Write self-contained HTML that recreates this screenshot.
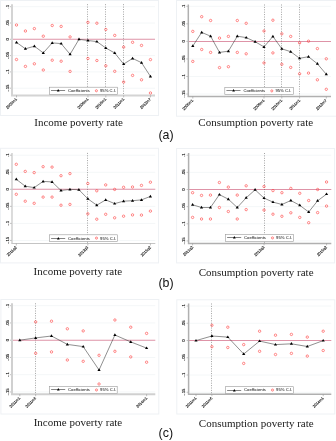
<!DOCTYPE html>
<html><head><meta charset="utf-8"><style>
html,body{margin:0;padding:0;background:#fff;}
svg{display:block;will-change:transform;}
</style></head><body>
<svg width="336" height="441" viewBox="0 0 336 441">
<rect width="336" height="441" fill="#fff"/>
<rect x="0.5" y="0.5" width="158" height="115" fill="none" stroke="#eef1f4" stroke-width="1"/>
<line x1="13" y1="6.7" x2="155" y2="6.7" stroke="#f4f7f8" stroke-width="1"/>
<line x1="10" y1="6.7" x2="12" y2="6.7" stroke="#999" stroke-width="0.6"/>
<text x="9" y="6.7" transform="rotate(-90 9 6.7)" text-anchor="middle" font-size="4.2" fill="#222" stroke="#222" stroke-width="0.12" font-family="'Liberation Sans', sans-serif">.1</text>
<line x1="13" y1="23" x2="155" y2="23" stroke="#f4f7f8" stroke-width="1"/>
<line x1="10" y1="23" x2="12" y2="23" stroke="#999" stroke-width="0.6"/>
<text x="9" y="23" transform="rotate(-90 9 23)" text-anchor="middle" font-size="4.2" fill="#222" stroke="#222" stroke-width="0.12" font-family="'Liberation Sans', sans-serif">.05</text>
<line x1="10" y1="39.3" x2="12" y2="39.3" stroke="#999" stroke-width="0.6"/>
<text x="9" y="39.3" transform="rotate(-90 9 39.3)" text-anchor="middle" font-size="4.2" fill="#222" stroke="#222" stroke-width="0.12" font-family="'Liberation Sans', sans-serif">0</text>
<line x1="13" y1="55.6" x2="155" y2="55.6" stroke="#f4f7f8" stroke-width="1"/>
<line x1="10" y1="55.6" x2="12" y2="55.6" stroke="#999" stroke-width="0.6"/>
<text x="9" y="55.6" transform="rotate(-90 9 55.6)" text-anchor="middle" font-size="4.2" fill="#222" stroke="#222" stroke-width="0.12" font-family="'Liberation Sans', sans-serif">-.05</text>
<line x1="13" y1="71.9" x2="155" y2="71.9" stroke="#f4f7f8" stroke-width="1"/>
<line x1="10" y1="71.9" x2="12" y2="71.9" stroke="#999" stroke-width="0.6"/>
<text x="9" y="71.9" transform="rotate(-90 9 71.9)" text-anchor="middle" font-size="4.2" fill="#222" stroke="#222" stroke-width="0.12" font-family="'Liberation Sans', sans-serif">-.1</text>
<line x1="13" y1="88.2" x2="155" y2="88.2" stroke="#f4f7f8" stroke-width="1"/>
<line x1="10" y1="88.2" x2="12" y2="88.2" stroke="#999" stroke-width="0.6"/>
<text x="9" y="88.2" transform="rotate(-90 9 88.2)" text-anchor="middle" font-size="4.2" fill="#222" stroke="#222" stroke-width="0.12" font-family="'Liberation Sans', sans-serif">-.15</text>
<line x1="12" y1="39.3" x2="155" y2="39.3" stroke="#de93a7" stroke-width="1.05"/>
<line x1="87.5" y1="4.2" x2="87.5" y2="95.4" stroke="#666" stroke-width="0.6" stroke-dasharray="1 1.4"/>
<line x1="105.5" y1="4.2" x2="105.5" y2="95.4" stroke="#666" stroke-width="0.6" stroke-dasharray="1 1.4"/>
<line x1="123.5" y1="4.2" x2="123.5" y2="95.4" stroke="#666" stroke-width="0.6" stroke-dasharray="1 1.4"/>
<line x1="12" y1="4.2" x2="12" y2="95.4" stroke="#d4d4d4" stroke-width="2.0"/>
<line x1="11" y1="95.4" x2="155" y2="95.4" stroke="#d4d4d4" stroke-width="2.0"/>
<line x1="16.5" y1="95.4" x2="16.5" y2="97.4" stroke="#999" stroke-width="0.6"/>
<text x="15.6" y="97.9" transform="rotate(-45 15.6 97.9)" text-anchor="end" dominant-baseline="hanging" font-size="3.8" fill="#111" stroke="#111" stroke-width="0.12" font-family="'Liberation Sans', sans-serif">2005m1</text>
<line x1="87.94" y1="95.4" x2="87.94" y2="97.4" stroke="#999" stroke-width="0.6"/>
<text x="87.04" y="97.9" transform="rotate(-45 87.04 97.9)" text-anchor="end" dominant-baseline="hanging" font-size="3.8" fill="#111" stroke="#111" stroke-width="0.12" font-family="'Liberation Sans', sans-serif">2009m1</text>
<line x1="105.8" y1="95.4" x2="105.8" y2="97.4" stroke="#999" stroke-width="0.6"/>
<text x="104.9" y="97.9" transform="rotate(-45 104.9 97.9)" text-anchor="end" dominant-baseline="hanging" font-size="3.8" fill="#111" stroke="#111" stroke-width="0.12" font-family="'Liberation Sans', sans-serif">2010m1</text>
<line x1="123.66" y1="95.4" x2="123.66" y2="97.4" stroke="#999" stroke-width="0.6"/>
<text x="122.76" y="97.9" transform="rotate(-45 122.76 97.9)" text-anchor="end" dominant-baseline="hanging" font-size="3.8" fill="#111" stroke="#111" stroke-width="0.12" font-family="'Liberation Sans', sans-serif">2011m1</text>
<line x1="150.45" y1="95.4" x2="150.45" y2="97.4" stroke="#999" stroke-width="0.6"/>
<text x="149.55" y="97.9" transform="rotate(-45 149.55 97.9)" text-anchor="end" dominant-baseline="hanging" font-size="3.8" fill="#111" stroke="#111" stroke-width="0.12" font-family="'Liberation Sans', sans-serif">2012m7</text>
<circle cx="16.5" cy="25" r="1.2" fill="none" stroke="#ff3a3a" stroke-width="0.6"/>
<circle cx="16.5" cy="59.5" r="1.2" fill="none" stroke="#ff3a3a" stroke-width="0.6"/>
<circle cx="25.43" cy="31" r="1.2" fill="none" stroke="#ff3a3a" stroke-width="0.6"/>
<circle cx="25.43" cy="66.4" r="1.2" fill="none" stroke="#ff3a3a" stroke-width="0.6"/>
<circle cx="34.36" cy="28.6" r="1.2" fill="none" stroke="#ff3a3a" stroke-width="0.6"/>
<circle cx="34.36" cy="63.8" r="1.2" fill="none" stroke="#ff3a3a" stroke-width="0.6"/>
<circle cx="43.29" cy="36.2" r="1.2" fill="none" stroke="#ff3a3a" stroke-width="0.6"/>
<circle cx="43.29" cy="70" r="1.2" fill="none" stroke="#ff3a3a" stroke-width="0.6"/>
<circle cx="52.22" cy="25.5" r="1.2" fill="none" stroke="#ff3a3a" stroke-width="0.6"/>
<circle cx="52.22" cy="60.2" r="1.2" fill="none" stroke="#ff3a3a" stroke-width="0.6"/>
<circle cx="61.15" cy="26.4" r="1.2" fill="none" stroke="#ff3a3a" stroke-width="0.6"/>
<circle cx="61.15" cy="61.2" r="1.2" fill="none" stroke="#ff3a3a" stroke-width="0.6"/>
<circle cx="70.08" cy="36.9" r="1.2" fill="none" stroke="#ff3a3a" stroke-width="0.6"/>
<circle cx="70.08" cy="71.4" r="1.2" fill="none" stroke="#ff3a3a" stroke-width="0.6"/>
<circle cx="87.94" cy="22.3" r="1.2" fill="none" stroke="#ff3a3a" stroke-width="0.6"/>
<circle cx="87.94" cy="58.5" r="1.2" fill="none" stroke="#ff3a3a" stroke-width="0.6"/>
<circle cx="96.87" cy="23.2" r="1.2" fill="none" stroke="#ff3a3a" stroke-width="0.6"/>
<circle cx="96.87" cy="60.5" r="1.2" fill="none" stroke="#ff3a3a" stroke-width="0.6"/>
<circle cx="105.8" cy="29.5" r="1.2" fill="none" stroke="#ff3a3a" stroke-width="0.6"/>
<circle cx="105.8" cy="65.8" r="1.2" fill="none" stroke="#ff3a3a" stroke-width="0.6"/>
<circle cx="114.73" cy="35.4" r="1.2" fill="none" stroke="#ff3a3a" stroke-width="0.6"/>
<circle cx="114.73" cy="71.3" r="1.2" fill="none" stroke="#ff3a3a" stroke-width="0.6"/>
<circle cx="123.66" cy="47.1" r="1.2" fill="none" stroke="#ff3a3a" stroke-width="0.6"/>
<circle cx="123.66" cy="82" r="1.2" fill="none" stroke="#ff3a3a" stroke-width="0.6"/>
<circle cx="132.59" cy="42.3" r="1.2" fill="none" stroke="#ff3a3a" stroke-width="0.6"/>
<circle cx="132.59" cy="75.4" r="1.2" fill="none" stroke="#ff3a3a" stroke-width="0.6"/>
<circle cx="141.52" cy="45.4" r="1.2" fill="none" stroke="#ff3a3a" stroke-width="0.6"/>
<circle cx="141.52" cy="79.8" r="1.2" fill="none" stroke="#ff3a3a" stroke-width="0.6"/>
<circle cx="150.45" cy="59.6" r="1.2" fill="none" stroke="#ff3a3a" stroke-width="0.6"/>
<circle cx="150.45" cy="93" r="1.2" fill="none" stroke="#ff3a3a" stroke-width="0.6"/>
<polyline points="16.5,42.4 25.43,48.8 34.36,46.2 43.29,52.9 52.22,42.9 61.15,43.6 70.08,54.3 79.01,39.3 87.94,40.5 96.87,41.6 105.8,48 114.73,53 123.66,64.1 132.59,58.4 141.52,62.7 150.45,76.4" fill="none" stroke="#333" stroke-width="0.55"/>
<path d="M16.5,40.7 L18.1,43.4 L14.9,43.4 Z" fill="#000"/>
<path d="M25.43,47.1 L27.03,49.8 L23.83,49.8 Z" fill="#000"/>
<path d="M34.36,44.5 L35.96,47.2 L32.76,47.2 Z" fill="#000"/>
<path d="M43.29,51.2 L44.89,53.9 L41.69,53.9 Z" fill="#000"/>
<path d="M52.22,41.2 L53.82,43.9 L50.62,43.9 Z" fill="#000"/>
<path d="M61.15,41.9 L62.75,44.6 L59.55,44.6 Z" fill="#000"/>
<path d="M70.08,52.6 L71.68,55.3 L68.48,55.3 Z" fill="#000"/>
<path d="M79.01,37.6 L80.61,40.3 L77.41,40.3 Z" fill="#000"/>
<path d="M87.94,38.8 L89.54,41.5 L86.34,41.5 Z" fill="#000"/>
<path d="M96.87,39.9 L98.47,42.6 L95.27,42.6 Z" fill="#000"/>
<path d="M105.8,46.3 L107.4,49 L104.2,49 Z" fill="#000"/>
<path d="M114.73,51.3 L116.33,54 L113.13,54 Z" fill="#000"/>
<path d="M123.66,62.4 L125.26,65.1 L122.06,65.1 Z" fill="#000"/>
<path d="M132.59,56.7 L134.19,59.4 L130.99,59.4 Z" fill="#000"/>
<path d="M141.52,61 L143.12,63.7 L139.92,63.7 Z" fill="#000"/>
<path d="M150.45,74.7 L152.05,77.4 L148.85,77.4 Z" fill="#000"/>
<rect x="49.4" y="87.2" width="67.9" height="7.1" fill="#fff" stroke="#999" stroke-width="0.6"/>
<line x1="51" y1="90.5" x2="65.1" y2="90.5" stroke="#333" stroke-width="0.6"/>
<path d="M58.2,89 L59.6,91.4 L56.8,91.4 Z" fill="#000"/>
<text x="68" y="92.15" font-size="4.2" fill="#000" font-family="'Liberation Sans', sans-serif">Coefficients</text>
<circle cx="96.4" cy="90.75" r="1.05" fill="none" stroke="#ff4d4d" stroke-width="0.7"/>
<text x="100" y="92.15" font-size="4.2" fill="#000" font-family="'Liberation Sans', sans-serif">95% C.I.</text>
<rect x="176.5" y="0.5" width="160" height="115.7" fill="none" stroke="#eef1f4" stroke-width="1"/>
<line x1="189.3" y1="6.3" x2="331" y2="6.3" stroke="#f4f7f8" stroke-width="1"/>
<line x1="186.3" y1="6.3" x2="188.3" y2="6.3" stroke="#999" stroke-width="0.6"/>
<text x="185.2" y="6.3" transform="rotate(-90 185.2 6.3)" text-anchor="middle" font-size="4.2" fill="#222" stroke="#222" stroke-width="0.12" font-family="'Liberation Sans', sans-serif">.1</text>
<line x1="189.3" y1="23.85" x2="331" y2="23.85" stroke="#f4f7f8" stroke-width="1"/>
<line x1="186.3" y1="23.85" x2="188.3" y2="23.85" stroke="#999" stroke-width="0.6"/>
<text x="185.2" y="23.85" transform="rotate(-90 185.2 23.85)" text-anchor="middle" font-size="4.2" fill="#222" stroke="#222" stroke-width="0.12" font-family="'Liberation Sans', sans-serif">.05</text>
<line x1="186.3" y1="41.4" x2="188.3" y2="41.4" stroke="#999" stroke-width="0.6"/>
<text x="185.2" y="41.4" transform="rotate(-90 185.2 41.4)" text-anchor="middle" font-size="4.2" fill="#222" stroke="#222" stroke-width="0.12" font-family="'Liberation Sans', sans-serif">0</text>
<line x1="189.3" y1="58.95" x2="331" y2="58.95" stroke="#f4f7f8" stroke-width="1"/>
<line x1="186.3" y1="58.95" x2="188.3" y2="58.95" stroke="#999" stroke-width="0.6"/>
<text x="185.2" y="58.95" transform="rotate(-90 185.2 58.95)" text-anchor="middle" font-size="4.2" fill="#222" stroke="#222" stroke-width="0.12" font-family="'Liberation Sans', sans-serif">-.05</text>
<line x1="189.3" y1="76.5" x2="331" y2="76.5" stroke="#f4f7f8" stroke-width="1"/>
<line x1="186.3" y1="76.5" x2="188.3" y2="76.5" stroke="#999" stroke-width="0.6"/>
<text x="185.2" y="76.5" transform="rotate(-90 185.2 76.5)" text-anchor="middle" font-size="4.2" fill="#222" stroke="#222" stroke-width="0.12" font-family="'Liberation Sans', sans-serif">-.1</text>
<line x1="189.3" y1="94.05" x2="331" y2="94.05" stroke="#f4f7f8" stroke-width="1"/>
<line x1="186.3" y1="94.05" x2="188.3" y2="94.05" stroke="#999" stroke-width="0.6"/>
<text x="185.2" y="94.05" transform="rotate(-90 185.2 94.05)" text-anchor="middle" font-size="4.2" fill="#222" stroke="#222" stroke-width="0.12" font-family="'Liberation Sans', sans-serif">-.15</text>
<line x1="188.3" y1="41.4" x2="331" y2="41.4" stroke="#de93a7" stroke-width="1.05"/>
<line x1="264.5" y1="4.5" x2="264.5" y2="96.5" stroke="#666" stroke-width="0.6" stroke-dasharray="1 1.4"/>
<line x1="281.5" y1="4.5" x2="281.5" y2="96.5" stroke="#666" stroke-width="0.6" stroke-dasharray="1 1.4"/>
<line x1="299.5" y1="4.5" x2="299.5" y2="96.5" stroke="#666" stroke-width="0.6" stroke-dasharray="1 1.4"/>
<line x1="188.3" y1="4.5" x2="188.3" y2="96.5" stroke="#b0b0b0" stroke-width="1.5"/>
<line x1="187.55" y1="96.5" x2="331" y2="96.5" stroke="#b0b0b0" stroke-width="1.5"/>
<line x1="192.8" y1="96.5" x2="192.8" y2="98.5" stroke="#999" stroke-width="0.6"/>
<text x="191.9" y="99" transform="rotate(-45 191.9 99)" text-anchor="end" dominant-baseline="hanging" font-size="3.8" fill="#111" stroke="#111" stroke-width="0.12" font-family="'Liberation Sans', sans-serif">2005m1</text>
<line x1="264" y1="96.5" x2="264" y2="98.5" stroke="#999" stroke-width="0.6"/>
<text x="263.1" y="99" transform="rotate(-45 263.1 99)" text-anchor="end" dominant-baseline="hanging" font-size="3.8" fill="#111" stroke="#111" stroke-width="0.12" font-family="'Liberation Sans', sans-serif">2009m1</text>
<line x1="281.8" y1="96.5" x2="281.8" y2="98.5" stroke="#999" stroke-width="0.6"/>
<text x="280.9" y="99" transform="rotate(-45 280.9 99)" text-anchor="end" dominant-baseline="hanging" font-size="3.8" fill="#111" stroke="#111" stroke-width="0.12" font-family="'Liberation Sans', sans-serif">2010m1</text>
<line x1="299.6" y1="96.5" x2="299.6" y2="98.5" stroke="#999" stroke-width="0.6"/>
<text x="298.7" y="99" transform="rotate(-45 298.7 99)" text-anchor="end" dominant-baseline="hanging" font-size="3.8" fill="#111" stroke="#111" stroke-width="0.12" font-family="'Liberation Sans', sans-serif">2011m1</text>
<line x1="326.3" y1="96.5" x2="326.3" y2="98.5" stroke="#999" stroke-width="0.6"/>
<text x="325.4" y="99" transform="rotate(-45 325.4 99)" text-anchor="end" dominant-baseline="hanging" font-size="3.8" fill="#111" stroke="#111" stroke-width="0.12" font-family="'Liberation Sans', sans-serif">2012m7</text>
<circle cx="192.8" cy="31.4" r="1.2" fill="none" stroke="#ff3a3a" stroke-width="0.6"/>
<circle cx="192.8" cy="61.4" r="1.2" fill="none" stroke="#ff3a3a" stroke-width="0.6"/>
<circle cx="201.7" cy="16.7" r="1.2" fill="none" stroke="#ff3a3a" stroke-width="0.6"/>
<circle cx="201.7" cy="49.5" r="1.2" fill="none" stroke="#ff3a3a" stroke-width="0.6"/>
<circle cx="210.6" cy="20.5" r="1.2" fill="none" stroke="#ff3a3a" stroke-width="0.6"/>
<circle cx="210.6" cy="52.4" r="1.2" fill="none" stroke="#ff3a3a" stroke-width="0.6"/>
<circle cx="219.5" cy="38.1" r="1.2" fill="none" stroke="#ff3a3a" stroke-width="0.6"/>
<circle cx="219.5" cy="67.6" r="1.2" fill="none" stroke="#ff3a3a" stroke-width="0.6"/>
<circle cx="228.4" cy="36.4" r="1.2" fill="none" stroke="#ff3a3a" stroke-width="0.6"/>
<circle cx="228.4" cy="66.7" r="1.2" fill="none" stroke="#ff3a3a" stroke-width="0.6"/>
<circle cx="237.3" cy="20.5" r="1.2" fill="none" stroke="#ff3a3a" stroke-width="0.6"/>
<circle cx="237.3" cy="52.4" r="1.2" fill="none" stroke="#ff3a3a" stroke-width="0.6"/>
<circle cx="246.2" cy="23.3" r="1.2" fill="none" stroke="#ff3a3a" stroke-width="0.6"/>
<circle cx="246.2" cy="53.8" r="1.2" fill="none" stroke="#ff3a3a" stroke-width="0.6"/>
<circle cx="264" cy="31" r="1.2" fill="none" stroke="#ff3a3a" stroke-width="0.6"/>
<circle cx="264" cy="62.9" r="1.2" fill="none" stroke="#ff3a3a" stroke-width="0.6"/>
<circle cx="272.9" cy="20.2" r="1.2" fill="none" stroke="#ff3a3a" stroke-width="0.6"/>
<circle cx="272.9" cy="52.9" r="1.2" fill="none" stroke="#ff3a3a" stroke-width="0.6"/>
<circle cx="281.8" cy="33.8" r="1.2" fill="none" stroke="#ff3a3a" stroke-width="0.6"/>
<circle cx="281.8" cy="64.3" r="1.2" fill="none" stroke="#ff3a3a" stroke-width="0.6"/>
<circle cx="290.7" cy="36.4" r="1.2" fill="none" stroke="#ff3a3a" stroke-width="0.6"/>
<circle cx="290.7" cy="67.4" r="1.2" fill="none" stroke="#ff3a3a" stroke-width="0.6"/>
<circle cx="299.6" cy="42.9" r="1.2" fill="none" stroke="#ff3a3a" stroke-width="0.6"/>
<circle cx="299.6" cy="73.8" r="1.2" fill="none" stroke="#ff3a3a" stroke-width="0.6"/>
<circle cx="308.5" cy="41.2" r="1.2" fill="none" stroke="#ff3a3a" stroke-width="0.6"/>
<circle cx="308.5" cy="73.1" r="1.2" fill="none" stroke="#ff3a3a" stroke-width="0.6"/>
<circle cx="317.4" cy="48.6" r="1.2" fill="none" stroke="#ff3a3a" stroke-width="0.6"/>
<circle cx="317.4" cy="79.8" r="1.2" fill="none" stroke="#ff3a3a" stroke-width="0.6"/>
<circle cx="326.3" cy="58.8" r="1.2" fill="none" stroke="#ff3a3a" stroke-width="0.6"/>
<circle cx="326.3" cy="89.3" r="1.2" fill="none" stroke="#ff3a3a" stroke-width="0.6"/>
<polyline points="192.8,46 201.7,32.4 210.6,36.2 219.5,52.4 228.4,51.2 237.3,36.2 246.2,37.6 255.1,41.7 264,46.9 272.9,36.4 281.8,48.8 290.7,51.7 299.6,58.3 308.5,56.7 317.4,63.8 326.3,74.3" fill="none" stroke="#333" stroke-width="0.55"/>
<path d="M192.8,44.3 L194.4,47 L191.2,47 Z" fill="#000"/>
<path d="M201.7,30.7 L203.3,33.4 L200.1,33.4 Z" fill="#000"/>
<path d="M210.6,34.5 L212.2,37.2 L209,37.2 Z" fill="#000"/>
<path d="M219.5,50.7 L221.1,53.4 L217.9,53.4 Z" fill="#000"/>
<path d="M228.4,49.5 L230,52.2 L226.8,52.2 Z" fill="#000"/>
<path d="M237.3,34.5 L238.9,37.2 L235.7,37.2 Z" fill="#000"/>
<path d="M246.2,35.9 L247.8,38.6 L244.6,38.6 Z" fill="#000"/>
<path d="M255.1,40 L256.7,42.7 L253.5,42.7 Z" fill="#000"/>
<path d="M264,45.2 L265.6,47.9 L262.4,47.9 Z" fill="#000"/>
<path d="M272.9,34.7 L274.5,37.4 L271.3,37.4 Z" fill="#000"/>
<path d="M281.8,47.1 L283.4,49.8 L280.2,49.8 Z" fill="#000"/>
<path d="M290.7,50 L292.3,52.7 L289.1,52.7 Z" fill="#000"/>
<path d="M299.6,56.6 L301.2,59.3 L298,59.3 Z" fill="#000"/>
<path d="M308.5,55 L310.1,57.7 L306.9,57.7 Z" fill="#000"/>
<path d="M317.4,62.1 L319,64.8 L315.8,64.8 Z" fill="#000"/>
<path d="M326.3,72.6 L327.9,75.3 L324.7,75.3 Z" fill="#000"/>
<rect x="224.8" y="87.5" width="68.7" height="6.8" fill="#fff" stroke="#999" stroke-width="0.6"/>
<line x1="226.4" y1="90.5" x2="240.5" y2="90.5" stroke="#333" stroke-width="0.6"/>
<path d="M233.6,89 L235,91.4 L232.2,91.4 Z" fill="#000"/>
<text x="243.4" y="92.3" font-size="4.2" fill="#000" font-family="'Liberation Sans', sans-serif">Coefficients</text>
<circle cx="271.8" cy="90.9" r="1.05" fill="none" stroke="#ff4d4d" stroke-width="0.7"/>
<text x="275.4" y="92.3" font-size="4.2" fill="#000" font-family="'Liberation Sans', sans-serif">95% C.I.</text>
<rect x="0.5" y="148.3" width="158" height="114.6" fill="none" stroke="#eef1f4" stroke-width="1"/>
<line x1="13" y1="155.2" x2="155.3" y2="155.2" stroke="#f4f7f8" stroke-width="1"/>
<line x1="10" y1="155.2" x2="12" y2="155.2" stroke="#999" stroke-width="0.6"/>
<text x="9" y="155.2" transform="rotate(-90 9 155.2)" text-anchor="middle" font-size="4.2" fill="#222" stroke="#222" stroke-width="0.12" font-family="'Liberation Sans', sans-serif">.1</text>
<line x1="13" y1="172.25" x2="155.3" y2="172.25" stroke="#f4f7f8" stroke-width="1"/>
<line x1="10" y1="172.25" x2="12" y2="172.25" stroke="#999" stroke-width="0.6"/>
<text x="9" y="172.25" transform="rotate(-90 9 172.25)" text-anchor="middle" font-size="4.2" fill="#222" stroke="#222" stroke-width="0.12" font-family="'Liberation Sans', sans-serif">.05</text>
<line x1="10" y1="189.3" x2="12" y2="189.3" stroke="#999" stroke-width="0.6"/>
<text x="9" y="189.3" transform="rotate(-90 9 189.3)" text-anchor="middle" font-size="4.2" fill="#222" stroke="#222" stroke-width="0.12" font-family="'Liberation Sans', sans-serif">0</text>
<line x1="13" y1="206.35" x2="155.3" y2="206.35" stroke="#f4f7f8" stroke-width="1"/>
<line x1="10" y1="206.35" x2="12" y2="206.35" stroke="#999" stroke-width="0.6"/>
<text x="9" y="206.35" transform="rotate(-90 9 206.35)" text-anchor="middle" font-size="4.2" fill="#222" stroke="#222" stroke-width="0.12" font-family="'Liberation Sans', sans-serif">-.05</text>
<line x1="13" y1="223.4" x2="155.3" y2="223.4" stroke="#f4f7f8" stroke-width="1"/>
<line x1="10" y1="223.4" x2="12" y2="223.4" stroke="#999" stroke-width="0.6"/>
<text x="9" y="223.4" transform="rotate(-90 9 223.4)" text-anchor="middle" font-size="4.2" fill="#222" stroke="#222" stroke-width="0.12" font-family="'Liberation Sans', sans-serif">-.1</text>
<line x1="13" y1="240.45" x2="155.3" y2="240.45" stroke="#f4f7f8" stroke-width="1"/>
<line x1="10" y1="240.45" x2="12" y2="240.45" stroke="#999" stroke-width="0.6"/>
<text x="9" y="240.45" transform="rotate(-90 9 240.45)" text-anchor="middle" font-size="4.2" fill="#222" stroke="#222" stroke-width="0.12" font-family="'Liberation Sans', sans-serif">-.15</text>
<line x1="12" y1="189.3" x2="155.3" y2="189.3" stroke="#de93a7" stroke-width="1.05"/>
<line x1="87.5" y1="152.9" x2="87.5" y2="243.5" stroke="#666" stroke-width="0.6" stroke-dasharray="1 1.4"/>
<line x1="12" y1="152.9" x2="12" y2="243.5" stroke="#c4c4c4" stroke-width="1.2"/>
<line x1="11.4" y1="243.5" x2="155.3" y2="243.5" stroke="#c4c4c4" stroke-width="1.2"/>
<line x1="16.3" y1="243.5" x2="16.3" y2="245.5" stroke="#999" stroke-width="0.6"/>
<text x="15.4" y="246" transform="rotate(-45 15.4 246)" text-anchor="end" dominant-baseline="hanging" font-size="3.8" fill="#111" stroke="#111" stroke-width="0.12" font-family="'Liberation Sans', sans-serif">2011q2</text>
<line x1="87.82" y1="243.5" x2="87.82" y2="245.5" stroke="#999" stroke-width="0.6"/>
<text x="86.92" y="246" transform="rotate(-45 86.92 246)" text-anchor="end" dominant-baseline="hanging" font-size="3.8" fill="#111" stroke="#111" stroke-width="0.12" font-family="'Liberation Sans', sans-serif">2013q3</text>
<line x1="150.4" y1="243.5" x2="150.4" y2="245.5" stroke="#999" stroke-width="0.6"/>
<text x="149.5" y="246" transform="rotate(-45 149.5 246)" text-anchor="end" dominant-baseline="hanging" font-size="3.8" fill="#111" stroke="#111" stroke-width="0.12" font-family="'Liberation Sans', sans-serif">2015q2</text>
<circle cx="16.3" cy="164.3" r="1.2" fill="none" stroke="#ff3a3a" stroke-width="0.6"/>
<circle cx="16.3" cy="194.3" r="1.2" fill="none" stroke="#ff3a3a" stroke-width="0.6"/>
<circle cx="25.24" cy="171.4" r="1.2" fill="none" stroke="#ff3a3a" stroke-width="0.6"/>
<circle cx="25.24" cy="201.2" r="1.2" fill="none" stroke="#ff3a3a" stroke-width="0.6"/>
<circle cx="34.18" cy="172.6" r="1.2" fill="none" stroke="#ff3a3a" stroke-width="0.6"/>
<circle cx="34.18" cy="203.3" r="1.2" fill="none" stroke="#ff3a3a" stroke-width="0.6"/>
<circle cx="43.12" cy="166.7" r="1.2" fill="none" stroke="#ff3a3a" stroke-width="0.6"/>
<circle cx="43.12" cy="197.1" r="1.2" fill="none" stroke="#ff3a3a" stroke-width="0.6"/>
<circle cx="52.06" cy="167.1" r="1.2" fill="none" stroke="#ff3a3a" stroke-width="0.6"/>
<circle cx="52.06" cy="197.1" r="1.2" fill="none" stroke="#ff3a3a" stroke-width="0.6"/>
<circle cx="61" cy="175.7" r="1.2" fill="none" stroke="#ff3a3a" stroke-width="0.6"/>
<circle cx="61" cy="205.2" r="1.2" fill="none" stroke="#ff3a3a" stroke-width="0.6"/>
<circle cx="69.94" cy="173.6" r="1.2" fill="none" stroke="#ff3a3a" stroke-width="0.6"/>
<circle cx="69.94" cy="204.4" r="1.2" fill="none" stroke="#ff3a3a" stroke-width="0.6"/>
<circle cx="87.82" cy="183.5" r="1.2" fill="none" stroke="#ff3a3a" stroke-width="0.6"/>
<circle cx="87.82" cy="213.8" r="1.2" fill="none" stroke="#ff3a3a" stroke-width="0.6"/>
<circle cx="96.76" cy="190.8" r="1.2" fill="none" stroke="#ff3a3a" stroke-width="0.6"/>
<circle cx="96.76" cy="219.2" r="1.2" fill="none" stroke="#ff3a3a" stroke-width="0.6"/>
<circle cx="105.7" cy="184.9" r="1.2" fill="none" stroke="#ff3a3a" stroke-width="0.6"/>
<circle cx="105.7" cy="214.3" r="1.2" fill="none" stroke="#ff3a3a" stroke-width="0.6"/>
<circle cx="114.64" cy="189.4" r="1.2" fill="none" stroke="#ff3a3a" stroke-width="0.6"/>
<circle cx="114.64" cy="217.8" r="1.2" fill="none" stroke="#ff3a3a" stroke-width="0.6"/>
<circle cx="123.58" cy="187.3" r="1.2" fill="none" stroke="#ff3a3a" stroke-width="0.6"/>
<circle cx="123.58" cy="216.2" r="1.2" fill="none" stroke="#ff3a3a" stroke-width="0.6"/>
<circle cx="132.52" cy="187" r="1.2" fill="none" stroke="#ff3a3a" stroke-width="0.6"/>
<circle cx="132.52" cy="214.9" r="1.2" fill="none" stroke="#ff3a3a" stroke-width="0.6"/>
<circle cx="141.46" cy="185.4" r="1.2" fill="none" stroke="#ff3a3a" stroke-width="0.6"/>
<circle cx="141.46" cy="215.1" r="1.2" fill="none" stroke="#ff3a3a" stroke-width="0.6"/>
<circle cx="150.4" cy="182.2" r="1.2" fill="none" stroke="#ff3a3a" stroke-width="0.6"/>
<circle cx="150.4" cy="211.1" r="1.2" fill="none" stroke="#ff3a3a" stroke-width="0.6"/>
<polyline points="16.3,179.3 25.24,186.2 34.18,187.6 43.12,181.4 52.06,181.9 61,190.5 69.94,189.4 78.88,189.7 87.82,198.8 96.76,205.2 105.7,199.9 114.64,203.6 123.58,201.2 132.52,200.7 141.46,199.9 150.4,196.4" fill="none" stroke="#333" stroke-width="0.55"/>
<path d="M16.3,177.6 L17.9,180.3 L14.7,180.3 Z" fill="#000"/>
<path d="M25.24,184.5 L26.84,187.2 L23.64,187.2 Z" fill="#000"/>
<path d="M34.18,185.9 L35.78,188.6 L32.58,188.6 Z" fill="#000"/>
<path d="M43.12,179.7 L44.72,182.4 L41.52,182.4 Z" fill="#000"/>
<path d="M52.06,180.2 L53.66,182.9 L50.46,182.9 Z" fill="#000"/>
<path d="M61,188.8 L62.6,191.5 L59.4,191.5 Z" fill="#000"/>
<path d="M69.94,187.7 L71.54,190.4 L68.34,190.4 Z" fill="#000"/>
<path d="M78.88,188 L80.48,190.7 L77.28,190.7 Z" fill="#000"/>
<path d="M87.82,197.1 L89.42,199.8 L86.22,199.8 Z" fill="#000"/>
<path d="M96.76,203.5 L98.36,206.2 L95.16,206.2 Z" fill="#000"/>
<path d="M105.7,198.2 L107.3,200.9 L104.1,200.9 Z" fill="#000"/>
<path d="M114.64,201.9 L116.24,204.6 L113.04,204.6 Z" fill="#000"/>
<path d="M123.58,199.5 L125.18,202.2 L121.98,202.2 Z" fill="#000"/>
<path d="M132.52,199 L134.12,201.7 L130.92,201.7 Z" fill="#000"/>
<path d="M141.46,198.2 L143.06,200.9 L139.86,200.9 Z" fill="#000"/>
<path d="M150.4,194.7 L152,197.4 L148.8,197.4 Z" fill="#000"/>
<rect x="49.5" y="234.8" width="68" height="6.6" fill="#fff" stroke="#999" stroke-width="0.6"/>
<line x1="51.1" y1="238.5" x2="65.2" y2="238.5" stroke="#333" stroke-width="0.6"/>
<path d="M58.3,237 L59.7,239.4 L56.9,239.4 Z" fill="#000"/>
<text x="68.1" y="239.5" font-size="4.2" fill="#000" font-family="'Liberation Sans', sans-serif">Coefficients</text>
<circle cx="96.5" cy="238.1" r="1.05" fill="none" stroke="#ff4d4d" stroke-width="0.7"/>
<text x="100.1" y="239.5" font-size="4.2" fill="#000" font-family="'Liberation Sans', sans-serif">95% C.I.</text>
<rect x="176.6" y="148.5" width="158" height="114.4" fill="none" stroke="#eef1f4" stroke-width="1"/>
<line x1="189.6" y1="155.2" x2="331.3" y2="155.2" stroke="#f4f7f8" stroke-width="1"/>
<line x1="186.6" y1="155.2" x2="188.6" y2="155.2" stroke="#999" stroke-width="0.6"/>
<text x="184.7" y="155.2" transform="rotate(-90 184.7 155.2)" text-anchor="middle" font-size="4.2" fill="#222" stroke="#222" stroke-width="0.12" font-family="'Liberation Sans', sans-serif">.1</text>
<line x1="189.6" y1="172.35" x2="331.3" y2="172.35" stroke="#f4f7f8" stroke-width="1"/>
<line x1="186.6" y1="172.35" x2="188.6" y2="172.35" stroke="#999" stroke-width="0.6"/>
<text x="184.7" y="172.35" transform="rotate(-90 184.7 172.35)" text-anchor="middle" font-size="4.2" fill="#222" stroke="#222" stroke-width="0.12" font-family="'Liberation Sans', sans-serif">.05</text>
<line x1="186.6" y1="189.5" x2="188.6" y2="189.5" stroke="#999" stroke-width="0.6"/>
<text x="184.7" y="189.5" transform="rotate(-90 184.7 189.5)" text-anchor="middle" font-size="4.2" fill="#222" stroke="#222" stroke-width="0.12" font-family="'Liberation Sans', sans-serif">0</text>
<line x1="189.6" y1="206.65" x2="331.3" y2="206.65" stroke="#f4f7f8" stroke-width="1"/>
<line x1="186.6" y1="206.65" x2="188.6" y2="206.65" stroke="#999" stroke-width="0.6"/>
<text x="184.7" y="206.65" transform="rotate(-90 184.7 206.65)" text-anchor="middle" font-size="4.2" fill="#222" stroke="#222" stroke-width="0.12" font-family="'Liberation Sans', sans-serif">-.05</text>
<line x1="189.6" y1="223.8" x2="331.3" y2="223.8" stroke="#f4f7f8" stroke-width="1"/>
<line x1="186.6" y1="223.8" x2="188.6" y2="223.8" stroke="#999" stroke-width="0.6"/>
<text x="184.7" y="223.8" transform="rotate(-90 184.7 223.8)" text-anchor="middle" font-size="4.2" fill="#222" stroke="#222" stroke-width="0.12" font-family="'Liberation Sans', sans-serif">-.1</text>
<line x1="189.6" y1="240.95" x2="331.3" y2="240.95" stroke="#f4f7f8" stroke-width="1"/>
<line x1="186.6" y1="240.95" x2="188.6" y2="240.95" stroke="#999" stroke-width="0.6"/>
<text x="184.7" y="240.95" transform="rotate(-90 184.7 240.95)" text-anchor="middle" font-size="4.2" fill="#222" stroke="#222" stroke-width="0.12" font-family="'Liberation Sans', sans-serif">-.15</text>
<line x1="188.6" y1="189.5" x2="331.3" y2="189.5" stroke="#de93a7" stroke-width="1.05"/>
<line x1="264.5" y1="153" x2="264.5" y2="243.4" stroke="#666" stroke-width="0.6" stroke-dasharray="1 1.4"/>
<line x1="188.6" y1="153" x2="188.6" y2="243.4" stroke="#b0b0b0" stroke-width="1.5"/>
<line x1="187.85" y1="243.4" x2="331.3" y2="243.4" stroke="#b0b0b0" stroke-width="1.5"/>
<line x1="192.6" y1="243.4" x2="192.6" y2="245.4" stroke="#999" stroke-width="0.6"/>
<text x="191.7" y="245.9" transform="rotate(-45 191.7 245.9)" text-anchor="end" dominant-baseline="hanging" font-size="3.8" fill="#111" stroke="#111" stroke-width="0.12" font-family="'Liberation Sans', sans-serif">2011q2</text>
<line x1="264.04" y1="243.4" x2="264.04" y2="245.4" stroke="#999" stroke-width="0.6"/>
<text x="263.14" y="245.9" transform="rotate(-45 263.14 245.9)" text-anchor="end" dominant-baseline="hanging" font-size="3.8" fill="#111" stroke="#111" stroke-width="0.12" font-family="'Liberation Sans', sans-serif">2013q3</text>
<line x1="326.55" y1="243.4" x2="326.55" y2="245.4" stroke="#999" stroke-width="0.6"/>
<text x="325.65" y="245.9" transform="rotate(-45 325.65 245.9)" text-anchor="end" dominant-baseline="hanging" font-size="3.8" fill="#111" stroke="#111" stroke-width="0.12" font-family="'Liberation Sans', sans-serif">2015q2</text>
<circle cx="192.6" cy="192.7" r="1.2" fill="none" stroke="#ff3a3a" stroke-width="0.6"/>
<circle cx="192.6" cy="217.4" r="1.2" fill="none" stroke="#ff3a3a" stroke-width="0.6"/>
<circle cx="201.53" cy="195.4" r="1.2" fill="none" stroke="#ff3a3a" stroke-width="0.6"/>
<circle cx="201.53" cy="219" r="1.2" fill="none" stroke="#ff3a3a" stroke-width="0.6"/>
<circle cx="210.46" cy="195.1" r="1.2" fill="none" stroke="#ff3a3a" stroke-width="0.6"/>
<circle cx="210.46" cy="219" r="1.2" fill="none" stroke="#ff3a3a" stroke-width="0.6"/>
<circle cx="219.39" cy="182.5" r="1.2" fill="none" stroke="#ff3a3a" stroke-width="0.6"/>
<circle cx="219.39" cy="207.5" r="1.2" fill="none" stroke="#ff3a3a" stroke-width="0.6"/>
<circle cx="228.32" cy="187.1" r="1.2" fill="none" stroke="#ff3a3a" stroke-width="0.6"/>
<circle cx="228.32" cy="211.5" r="1.2" fill="none" stroke="#ff3a3a" stroke-width="0.6"/>
<circle cx="237.25" cy="195.1" r="1.2" fill="none" stroke="#ff3a3a" stroke-width="0.6"/>
<circle cx="237.25" cy="219" r="1.2" fill="none" stroke="#ff3a3a" stroke-width="0.6"/>
<circle cx="246.18" cy="185.8" r="1.2" fill="none" stroke="#ff3a3a" stroke-width="0.6"/>
<circle cx="246.18" cy="209.6" r="1.2" fill="none" stroke="#ff3a3a" stroke-width="0.6"/>
<circle cx="264.04" cy="186.5" r="1.2" fill="none" stroke="#ff3a3a" stroke-width="0.6"/>
<circle cx="264.04" cy="210.1" r="1.2" fill="none" stroke="#ff3a3a" stroke-width="0.6"/>
<circle cx="272.97" cy="190.6" r="1.2" fill="none" stroke="#ff3a3a" stroke-width="0.6"/>
<circle cx="272.97" cy="214.2" r="1.2" fill="none" stroke="#ff3a3a" stroke-width="0.6"/>
<circle cx="281.9" cy="192.7" r="1.2" fill="none" stroke="#ff3a3a" stroke-width="0.6"/>
<circle cx="281.9" cy="216.3" r="1.2" fill="none" stroke="#ff3a3a" stroke-width="0.6"/>
<circle cx="290.83" cy="188.4" r="1.2" fill="none" stroke="#ff3a3a" stroke-width="0.6"/>
<circle cx="290.83" cy="212.8" r="1.2" fill="none" stroke="#ff3a3a" stroke-width="0.6"/>
<circle cx="299.76" cy="193.3" r="1.2" fill="none" stroke="#ff3a3a" stroke-width="0.6"/>
<circle cx="299.76" cy="217.4" r="1.2" fill="none" stroke="#ff3a3a" stroke-width="0.6"/>
<circle cx="308.69" cy="200.5" r="1.2" fill="none" stroke="#ff3a3a" stroke-width="0.6"/>
<circle cx="308.69" cy="222.7" r="1.2" fill="none" stroke="#ff3a3a" stroke-width="0.6"/>
<circle cx="317.62" cy="189.5" r="1.2" fill="none" stroke="#ff3a3a" stroke-width="0.6"/>
<circle cx="317.62" cy="212.6" r="1.2" fill="none" stroke="#ff3a3a" stroke-width="0.6"/>
<circle cx="326.55" cy="182" r="1.2" fill="none" stroke="#ff3a3a" stroke-width="0.6"/>
<circle cx="326.55" cy="206.1" r="1.2" fill="none" stroke="#ff3a3a" stroke-width="0.6"/>
<polyline points="192.6,204.8 201.53,207.5 210.46,207.5 219.39,194.6 228.32,199.2 237.25,207.5 246.18,197.8 255.11,189.8 264.04,198.1 272.97,202.1 281.9,204.5 290.83,200.5 299.76,205.3 308.69,212 317.62,200.8 326.55,194.1" fill="none" stroke="#333" stroke-width="0.55"/>
<path d="M192.6,203.1 L194.2,205.8 L191,205.8 Z" fill="#000"/>
<path d="M201.53,205.8 L203.13,208.5 L199.93,208.5 Z" fill="#000"/>
<path d="M210.46,205.8 L212.06,208.5 L208.86,208.5 Z" fill="#000"/>
<path d="M219.39,192.9 L220.99,195.6 L217.79,195.6 Z" fill="#000"/>
<path d="M228.32,197.5 L229.92,200.2 L226.72,200.2 Z" fill="#000"/>
<path d="M237.25,205.8 L238.85,208.5 L235.65,208.5 Z" fill="#000"/>
<path d="M246.18,196.1 L247.78,198.8 L244.58,198.8 Z" fill="#000"/>
<path d="M255.11,188.1 L256.71,190.8 L253.51,190.8 Z" fill="#000"/>
<path d="M264.04,196.4 L265.64,199.1 L262.44,199.1 Z" fill="#000"/>
<path d="M272.97,200.4 L274.57,203.1 L271.37,203.1 Z" fill="#000"/>
<path d="M281.9,202.8 L283.5,205.5 L280.3,205.5 Z" fill="#000"/>
<path d="M290.83,198.8 L292.43,201.5 L289.23,201.5 Z" fill="#000"/>
<path d="M299.76,203.6 L301.36,206.3 L298.16,206.3 Z" fill="#000"/>
<path d="M308.69,210.3 L310.29,213 L307.09,213 Z" fill="#000"/>
<path d="M317.62,199.1 L319.22,201.8 L316.02,201.8 Z" fill="#000"/>
<path d="M326.55,192.4 L328.15,195.1 L324.95,195.1 Z" fill="#000"/>
<rect x="225.5" y="234.3" width="68" height="7.2" fill="#fff" stroke="#999" stroke-width="0.6"/>
<line x1="227.1" y1="237.5" x2="241.2" y2="237.5" stroke="#333" stroke-width="0.6"/>
<path d="M234.3,236 L235.7,238.4 L232.9,238.4 Z" fill="#000"/>
<text x="244.1" y="239.3" font-size="4.2" fill="#000" font-family="'Liberation Sans', sans-serif">Coefficients</text>
<circle cx="272.5" cy="237.9" r="1.05" fill="none" stroke="#ff4d4d" stroke-width="0.7"/>
<text x="276.1" y="239.3" font-size="4.2" fill="#000" font-family="'Liberation Sans', sans-serif">95% C.I.</text>
<rect x="0.9" y="299.5" width="157.9" height="114.5" fill="none" stroke="#eef1f4" stroke-width="1"/>
<line x1="13" y1="305.7" x2="155.3" y2="305.7" stroke="#f4f7f8" stroke-width="1"/>
<line x1="10" y1="305.7" x2="12" y2="305.7" stroke="#999" stroke-width="0.6"/>
<text x="9" y="305.7" transform="rotate(-90 9 305.7)" text-anchor="middle" font-size="4.2" fill="#222" stroke="#222" stroke-width="0.12" font-family="'Liberation Sans', sans-serif">.1</text>
<line x1="13" y1="322.95" x2="155.3" y2="322.95" stroke="#f4f7f8" stroke-width="1"/>
<line x1="10" y1="322.95" x2="12" y2="322.95" stroke="#999" stroke-width="0.6"/>
<text x="9" y="322.95" transform="rotate(-90 9 322.95)" text-anchor="middle" font-size="4.2" fill="#222" stroke="#222" stroke-width="0.12" font-family="'Liberation Sans', sans-serif">.05</text>
<line x1="10" y1="340.2" x2="12" y2="340.2" stroke="#999" stroke-width="0.6"/>
<text x="9" y="340.2" transform="rotate(-90 9 340.2)" text-anchor="middle" font-size="4.2" fill="#222" stroke="#222" stroke-width="0.12" font-family="'Liberation Sans', sans-serif">0</text>
<line x1="13" y1="357.45" x2="155.3" y2="357.45" stroke="#f4f7f8" stroke-width="1"/>
<line x1="10" y1="357.45" x2="12" y2="357.45" stroke="#999" stroke-width="0.6"/>
<text x="9" y="357.45" transform="rotate(-90 9 357.45)" text-anchor="middle" font-size="4.2" fill="#222" stroke="#222" stroke-width="0.12" font-family="'Liberation Sans', sans-serif">-.05</text>
<line x1="13" y1="374.7" x2="155.3" y2="374.7" stroke="#f4f7f8" stroke-width="1"/>
<line x1="10" y1="374.7" x2="12" y2="374.7" stroke="#999" stroke-width="0.6"/>
<text x="9" y="374.7" transform="rotate(-90 9 374.7)" text-anchor="middle" font-size="4.2" fill="#222" stroke="#222" stroke-width="0.12" font-family="'Liberation Sans', sans-serif">-.1</text>
<line x1="13" y1="391.95" x2="155.3" y2="391.95" stroke="#f4f7f8" stroke-width="1"/>
<line x1="10" y1="391.95" x2="12" y2="391.95" stroke="#999" stroke-width="0.6"/>
<text x="9" y="391.95" transform="rotate(-90 9 391.95)" text-anchor="middle" font-size="4.2" fill="#222" stroke="#222" stroke-width="0.12" font-family="'Liberation Sans', sans-serif">-.15</text>
<line x1="12" y1="340.2" x2="155.3" y2="340.2" stroke="#de93a7" stroke-width="1.05"/>
<line x1="35.5" y1="303.3" x2="35.5" y2="394.2" stroke="#666" stroke-width="0.6" stroke-dasharray="1 1.4"/>
<line x1="12" y1="303.3" x2="12" y2="394.2" stroke="#d0d0d0" stroke-width="2.0"/>
<line x1="11" y1="394.2" x2="155.3" y2="394.2" stroke="#d0d0d0" stroke-width="2.0"/>
<line x1="19.8" y1="394.2" x2="19.8" y2="396.2" stroke="#999" stroke-width="0.6"/>
<text x="18.9" y="396.7" transform="rotate(-45 18.9 396.7)" text-anchor="end" dominant-baseline="hanging" font-size="3.8" fill="#111" stroke="#111" stroke-width="0.12" font-family="'Liberation Sans', sans-serif">2011m1</text>
<line x1="35.65" y1="394.2" x2="35.65" y2="396.2" stroke="#999" stroke-width="0.6"/>
<text x="34.75" y="396.7" transform="rotate(-45 34.75 396.7)" text-anchor="end" dominant-baseline="hanging" font-size="3.8" fill="#111" stroke="#111" stroke-width="0.12" font-family="'Liberation Sans', sans-serif">2011m6</text>
<line x1="146.6" y1="394.2" x2="146.6" y2="396.2" stroke="#999" stroke-width="0.6"/>
<text x="145.7" y="396.7" transform="rotate(-45 145.7 396.7)" text-anchor="end" dominant-baseline="hanging" font-size="3.8" fill="#111" stroke="#111" stroke-width="0.12" font-family="'Liberation Sans', sans-serif">2014m1</text>
<circle cx="35.65" cy="321.9" r="1.2" fill="none" stroke="#ff3a3a" stroke-width="0.6"/>
<circle cx="35.65" cy="353.3" r="1.2" fill="none" stroke="#ff3a3a" stroke-width="0.6"/>
<circle cx="51.5" cy="321.2" r="1.2" fill="none" stroke="#ff3a3a" stroke-width="0.6"/>
<circle cx="51.5" cy="351.9" r="1.2" fill="none" stroke="#ff3a3a" stroke-width="0.6"/>
<circle cx="67.35" cy="328.8" r="1.2" fill="none" stroke="#ff3a3a" stroke-width="0.6"/>
<circle cx="67.35" cy="360" r="1.2" fill="none" stroke="#ff3a3a" stroke-width="0.6"/>
<circle cx="83.2" cy="330.9" r="1.2" fill="none" stroke="#ff3a3a" stroke-width="0.6"/>
<circle cx="83.2" cy="361.3" r="1.2" fill="none" stroke="#ff3a3a" stroke-width="0.6"/>
<circle cx="99.05" cy="355.3" r="1.2" fill="none" stroke="#ff3a3a" stroke-width="0.6"/>
<circle cx="99.05" cy="384" r="1.2" fill="none" stroke="#ff3a3a" stroke-width="0.6"/>
<circle cx="114.9" cy="320" r="1.2" fill="none" stroke="#ff3a3a" stroke-width="0.6"/>
<circle cx="114.9" cy="351.3" r="1.2" fill="none" stroke="#ff3a3a" stroke-width="0.6"/>
<circle cx="130.75" cy="327.2" r="1.2" fill="none" stroke="#ff3a3a" stroke-width="0.6"/>
<circle cx="130.75" cy="356.9" r="1.2" fill="none" stroke="#ff3a3a" stroke-width="0.6"/>
<circle cx="146.6" cy="333.4" r="1.2" fill="none" stroke="#ff3a3a" stroke-width="0.6"/>
<circle cx="146.6" cy="362.2" r="1.2" fill="none" stroke="#ff3a3a" stroke-width="0.6"/>
<polyline points="19.8,340.2 35.65,337.9 51.5,336 67.35,344.4 83.2,346.6 99.05,370 114.9,335 130.75,341.9 146.6,348.1" fill="none" stroke="#333" stroke-width="0.55"/>
<path d="M19.8,338.5 L21.4,341.2 L18.2,341.2 Z" fill="#000"/>
<path d="M35.65,336.2 L37.25,338.9 L34.05,338.9 Z" fill="#000"/>
<path d="M51.5,334.3 L53.1,337 L49.9,337 Z" fill="#000"/>
<path d="M67.35,342.7 L68.95,345.4 L65.75,345.4 Z" fill="#000"/>
<path d="M83.2,344.9 L84.8,347.6 L81.6,347.6 Z" fill="#000"/>
<path d="M99.05,368.3 L100.65,371 L97.45,371 Z" fill="#000"/>
<path d="M114.9,333.3 L116.5,336 L113.3,336 Z" fill="#000"/>
<path d="M130.75,340.2 L132.35,342.9 L129.15,342.9 Z" fill="#000"/>
<path d="M146.6,346.4 L148.2,349.1 L145,349.1 Z" fill="#000"/>
<rect x="49.5" y="386.3" width="67.7" height="7.3" fill="#fff" stroke="#999" stroke-width="0.6"/>
<line x1="51.1" y1="389.5" x2="65.2" y2="389.5" stroke="#333" stroke-width="0.6"/>
<path d="M58.3,388 L59.7,390.4 L56.9,390.4 Z" fill="#000"/>
<text x="68.1" y="391.35" font-size="4.2" fill="#000" font-family="'Liberation Sans', sans-serif">Coefficients</text>
<circle cx="96.5" cy="389.95" r="1.05" fill="none" stroke="#ff4d4d" stroke-width="0.7"/>
<text x="100.1" y="391.35" font-size="4.2" fill="#000" font-family="'Liberation Sans', sans-serif">95% C.I.</text>
<rect x="176.8" y="299.8" width="158" height="114.2" fill="none" stroke="#eef1f4" stroke-width="1"/>
<line x1="189.6" y1="306" x2="331.3" y2="306" stroke="#f4f7f8" stroke-width="1"/>
<line x1="186.6" y1="306" x2="188.6" y2="306" stroke="#999" stroke-width="0.6"/>
<text x="184.7" y="306" transform="rotate(-90 184.7 306)" text-anchor="middle" font-size="4.2" fill="#222" stroke="#222" stroke-width="0.12" font-family="'Liberation Sans', sans-serif">.1</text>
<line x1="189.6" y1="323.25" x2="331.3" y2="323.25" stroke="#f4f7f8" stroke-width="1"/>
<line x1="186.6" y1="323.25" x2="188.6" y2="323.25" stroke="#999" stroke-width="0.6"/>
<text x="184.7" y="323.25" transform="rotate(-90 184.7 323.25)" text-anchor="middle" font-size="4.2" fill="#222" stroke="#222" stroke-width="0.12" font-family="'Liberation Sans', sans-serif">.05</text>
<line x1="186.6" y1="340.5" x2="188.6" y2="340.5" stroke="#999" stroke-width="0.6"/>
<text x="184.7" y="340.5" transform="rotate(-90 184.7 340.5)" text-anchor="middle" font-size="4.2" fill="#222" stroke="#222" stroke-width="0.12" font-family="'Liberation Sans', sans-serif">0</text>
<line x1="189.6" y1="357.75" x2="331.3" y2="357.75" stroke="#f4f7f8" stroke-width="1"/>
<line x1="186.6" y1="357.75" x2="188.6" y2="357.75" stroke="#999" stroke-width="0.6"/>
<text x="184.7" y="357.75" transform="rotate(-90 184.7 357.75)" text-anchor="middle" font-size="4.2" fill="#222" stroke="#222" stroke-width="0.12" font-family="'Liberation Sans', sans-serif">-.05</text>
<line x1="189.6" y1="375" x2="331.3" y2="375" stroke="#f4f7f8" stroke-width="1"/>
<line x1="186.6" y1="375" x2="188.6" y2="375" stroke="#999" stroke-width="0.6"/>
<text x="184.7" y="375" transform="rotate(-90 184.7 375)" text-anchor="middle" font-size="4.2" fill="#222" stroke="#222" stroke-width="0.12" font-family="'Liberation Sans', sans-serif">-.1</text>
<line x1="189.6" y1="392.25" x2="331.3" y2="392.25" stroke="#f4f7f8" stroke-width="1"/>
<line x1="186.6" y1="392.25" x2="188.6" y2="392.25" stroke="#999" stroke-width="0.6"/>
<text x="184.7" y="392.25" transform="rotate(-90 184.7 392.25)" text-anchor="middle" font-size="4.2" fill="#222" stroke="#222" stroke-width="0.12" font-family="'Liberation Sans', sans-serif">-.15</text>
<line x1="188.6" y1="340.5" x2="331.3" y2="340.5" stroke="#de93a7" stroke-width="1.05"/>
<line x1="211.5" y1="303.5" x2="211.5" y2="394.2" stroke="#666" stroke-width="0.6" stroke-dasharray="1 1.4"/>
<line x1="188.6" y1="303.5" x2="188.6" y2="394.2" stroke="#b0b0b0" stroke-width="1.5"/>
<line x1="187.85" y1="394.2" x2="331.3" y2="394.2" stroke="#b0b0b0" stroke-width="1.5"/>
<line x1="196" y1="394.2" x2="196" y2="396.2" stroke="#999" stroke-width="0.6"/>
<text x="195.1" y="396.7" transform="rotate(-45 195.1 396.7)" text-anchor="end" dominant-baseline="hanging" font-size="3.8" fill="#111" stroke="#111" stroke-width="0.12" font-family="'Liberation Sans', sans-serif">2011m1</text>
<line x1="211.9" y1="394.2" x2="211.9" y2="396.2" stroke="#999" stroke-width="0.6"/>
<text x="211" y="396.7" transform="rotate(-45 211 396.7)" text-anchor="end" dominant-baseline="hanging" font-size="3.8" fill="#111" stroke="#111" stroke-width="0.12" font-family="'Liberation Sans', sans-serif">2011m6</text>
<line x1="323.2" y1="394.2" x2="323.2" y2="396.2" stroke="#999" stroke-width="0.6"/>
<text x="322.3" y="396.7" transform="rotate(-45 322.3 396.7)" text-anchor="end" dominant-baseline="hanging" font-size="3.8" fill="#111" stroke="#111" stroke-width="0.12" font-family="'Liberation Sans', sans-serif">2014m1</text>
<circle cx="211.9" cy="325.3" r="1.2" fill="none" stroke="#ff3a3a" stroke-width="0.6"/>
<circle cx="211.9" cy="346.7" r="1.2" fill="none" stroke="#ff3a3a" stroke-width="0.6"/>
<circle cx="227.8" cy="327.2" r="1.2" fill="none" stroke="#ff3a3a" stroke-width="0.6"/>
<circle cx="227.8" cy="347.5" r="1.2" fill="none" stroke="#ff3a3a" stroke-width="0.6"/>
<circle cx="243.7" cy="344.6" r="1.2" fill="none" stroke="#ff3a3a" stroke-width="0.6"/>
<circle cx="243.7" cy="363.4" r="1.2" fill="none" stroke="#ff3a3a" stroke-width="0.6"/>
<circle cx="259.6" cy="331.2" r="1.2" fill="none" stroke="#ff3a3a" stroke-width="0.6"/>
<circle cx="259.6" cy="351.3" r="1.2" fill="none" stroke="#ff3a3a" stroke-width="0.6"/>
<circle cx="275.5" cy="335.2" r="1.2" fill="none" stroke="#ff3a3a" stroke-width="0.6"/>
<circle cx="275.5" cy="354.5" r="1.2" fill="none" stroke="#ff3a3a" stroke-width="0.6"/>
<circle cx="291.4" cy="334.4" r="1.2" fill="none" stroke="#ff3a3a" stroke-width="0.6"/>
<circle cx="291.4" cy="353.4" r="1.2" fill="none" stroke="#ff3a3a" stroke-width="0.6"/>
<circle cx="307.3" cy="337.1" r="1.2" fill="none" stroke="#ff3a3a" stroke-width="0.6"/>
<circle cx="307.3" cy="356.1" r="1.2" fill="none" stroke="#ff3a3a" stroke-width="0.6"/>
<circle cx="323.2" cy="331.2" r="1.2" fill="none" stroke="#ff3a3a" stroke-width="0.6"/>
<circle cx="323.2" cy="350.5" r="1.2" fill="none" stroke="#ff3a3a" stroke-width="0.6"/>
<polyline points="196,340.6 211.9,336 227.8,337.1 243.7,354 259.6,341.1 275.5,344.6 291.4,343.8 307.3,346.5 323.2,340.6" fill="none" stroke="#333" stroke-width="0.55"/>
<path d="M196,338.9 L197.6,341.6 L194.4,341.6 Z" fill="#000"/>
<path d="M211.9,334.3 L213.5,337 L210.3,337 Z" fill="#000"/>
<path d="M227.8,335.4 L229.4,338.1 L226.2,338.1 Z" fill="#000"/>
<path d="M243.7,352.3 L245.3,355 L242.1,355 Z" fill="#000"/>
<path d="M259.6,339.4 L261.2,342.1 L258,342.1 Z" fill="#000"/>
<path d="M275.5,342.9 L277.1,345.6 L273.9,345.6 Z" fill="#000"/>
<path d="M291.4,342.1 L293,344.8 L289.8,344.8 Z" fill="#000"/>
<path d="M307.3,344.8 L308.9,347.5 L305.7,347.5 Z" fill="#000"/>
<path d="M323.2,338.9 L324.8,341.6 L321.6,341.6 Z" fill="#000"/>
<rect x="225.5" y="386.7" width="68" height="6.7" fill="#fff" stroke="#999" stroke-width="0.6"/>
<line x1="227.1" y1="390.5" x2="241.2" y2="390.5" stroke="#333" stroke-width="0.6"/>
<path d="M234.3,389 L235.7,391.4 L232.9,391.4 Z" fill="#000"/>
<text x="244.1" y="391.45" font-size="4.2" fill="#000" font-family="'Liberation Sans', sans-serif">Coefficients</text>
<circle cx="272.5" cy="390.05" r="1.05" fill="none" stroke="#ff4d4d" stroke-width="0.7"/>
<text x="276.1" y="391.45" font-size="4.2" fill="#000" font-family="'Liberation Sans', sans-serif">95% C.I.</text>
<text x="34.3" y="125.9" font-size="11" fill="#1a1a1a" font-family="'Liberation Serif', serif">Income poverty rate</text>
<text x="198.3" y="125.9" font-size="11" fill="#1a1a1a" font-family="'Liberation Serif', serif">Consumption poverty rate</text>
<text x="33.6" y="274.9" font-size="11" fill="#1a1a1a" font-family="'Liberation Serif', serif">Income poverty rate</text>
<text x="198.7" y="275.6" font-size="11" fill="#1a1a1a" font-family="'Liberation Serif', serif">Consumption poverty rate</text>
<text x="33.7" y="426.2" font-size="11" fill="#1a1a1a" font-family="'Liberation Serif', serif">Income poverty rate</text>
<text x="198.8" y="426.5" font-size="11" fill="#1a1a1a" font-family="'Liberation Serif', serif">Consumption poverty rate</text>
<text x="158.4" y="139" font-size="12.4" fill="#111" font-family="'Liberation Sans', sans-serif">(a)</text>
<text x="158.4" y="286.8" font-size="12.4" fill="#111" font-family="'Liberation Sans', sans-serif">(b)</text>
<text x="158.6" y="436.9" font-size="12.4" fill="#111" font-family="'Liberation Sans', sans-serif">(c)</text>
</svg>
</body></html>
